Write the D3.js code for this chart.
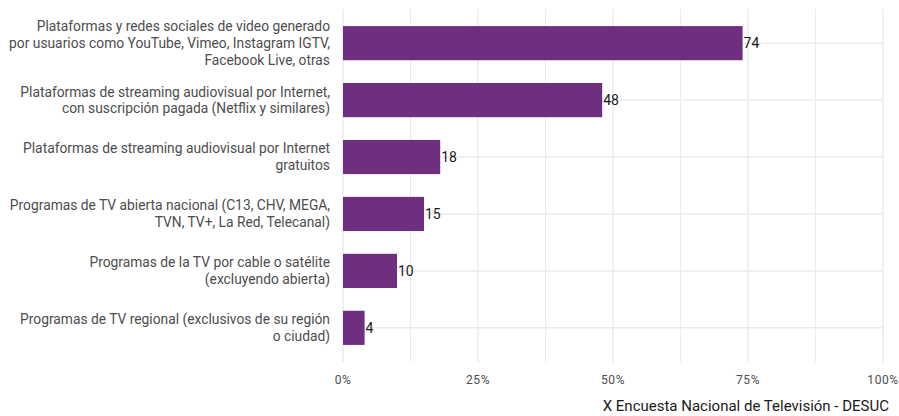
<!DOCTYPE html>
<html>
<head><meta charset="utf-8"/>
<script src="https://d3js.org/d3.v7.min.js"></script>
<style>
body { margin: 0; background: #fff; }
svg { font-family: Roboto, "Liberation Sans", sans-serif; }
.grid line { stroke: #ebebeb; }
.ylab { fill: #4d4d4d; font-size: 13.8px; }
.xlab { fill: #4d4d4d; font-size: 12px; letter-spacing: 0.6px; }
.val { fill: #1a1a1a; font-size: 14px; }
.caption { fill: #1a1a1a; font-size: 15px; }
</style>
</head>
<body>
<div id="chart"></div>
<script>
// categories (top to bottom), each split into lines as in the chart
var categories = [
  ["Plataformas y redes sociales de video generado", "por usuarios como YouTube, Vimeo, Instagram IGTV,", "Facebook Live, otras"],
  ["Plataformas de streaming audiovisual por Internet,", "con suscripción pagada (Netflix y similares)"],
  ["Plataformas de streaming audiovisual por Internet", "gratuitos"],
  ["Programas de TV abierta nacional (C13, CHV, MEGA,", "TVN, TV+, La Red, Telecanal)"],
  ["Programas de la TV por cable o satélite", "(excluyendo abierta)"],
  ["Programas de TV regional (exclusivos de su región", "o ciudad)"]
];
var values = [74, 48, 18, 15, 10, 4];
var xTicks = [0, 25, 50, 75, 100];
var xMinor = [12.5, 37.5, 62.5, 87.5];
var caption = "X Encuesta Nacional de Televisión - DESUC";

var W = 899, H = 416;
var margin = {top: 9, right: 16, bottom: 54, left: 343};
var width = W - margin.left - margin.right,
    height = H - margin.top - margin.bottom;

var svg = d3.select("#chart").append("svg")
    .attr("width", W).attr("height", H);
var g = svg.append("g")
    .attr("transform", "translate(" + margin.left + "," + margin.top + ")");

var x = d3.scaleLinear().domain([0, 100]).range([0, width]);
var idx = d3.range(categories.length);
var y = d3.scaleBand().domain(idx).range([0, height])
    .paddingInner(0.4).paddingOuter(0.3);

// grid
var grid = g.append("g").attr("class", "grid");
grid.selectAll(".minor").data(xMinor).enter().append("line")
    .attr("x1", d => x(d)).attr("x2", d => x(d))
    .attr("y1", 0).attr("y2", height).attr("stroke-width", 1);
grid.selectAll(".major").data(xTicks).enter().append("line")
    .attr("x1", d => x(d)).attr("x2", d => x(d))
    .attr("y1", 0).attr("y2", height).attr("stroke-width", 1.5);
grid.selectAll(".hy").data(idx).enter().append("line")
    .attr("x1", 0).attr("x2", width)
    .attr("y1", d => y(d) + y.bandwidth() / 2)
    .attr("y2", d => y(d) + y.bandwidth() / 2)
    .attr("stroke-width", 1.5);

// bars
g.selectAll(".bar").data(values).enter().append("rect")
    .attr("x", x(0))
    .attr("y", (d, i) => y(i))
    .attr("width", d => x(d) - x(0))
    .attr("height", y.bandwidth())
    .attr("fill", "#6e2f7e");

// value labels
g.selectAll(".val").data(values).enter().append("text")
    .attr("class", "val")
    .attr("x", d => x(d) + 1)
    .attr("y", (d, i) => y(i) + y.bandwidth() / 2)
    .attr("dy", "0.35em")
    .text(d => d);

// category labels
var lh = 16.8;
categories.forEach(function(lines, i) {
  var cy = y(i) + y.bandwidth() / 2;
  var t = g.append("text").attr("class", "ylab")
      .attr("text-anchor", "end")
      .attr("transform", "translate(-13," + cy + ")");
  lines.forEach(function(s, k) {
    t.append("tspan").attr("x", 0)
      .attr("y", (k - (lines.length - 1) / 2) * lh)
      .attr("dy", "0.35em")
      .text(s);
  });
});

// x tick labels
g.selectAll(".xlab").data(xTicks).enter().append("text")
    .attr("class", "xlab")
    .attr("x", d => x(d))
    .attr("y", height + 18)
    .attr("dy", "0.35em")
    .attr("text-anchor", "middle")
    .text(d => d + "%");

svg.append("text").attr("class", "caption")
    .attr("x", 889)
    .attr("y", 406)
    .attr("dy", "0.35em")
    .attr("text-anchor", "end")
    .text(caption);
</script>
</body>
</html>
